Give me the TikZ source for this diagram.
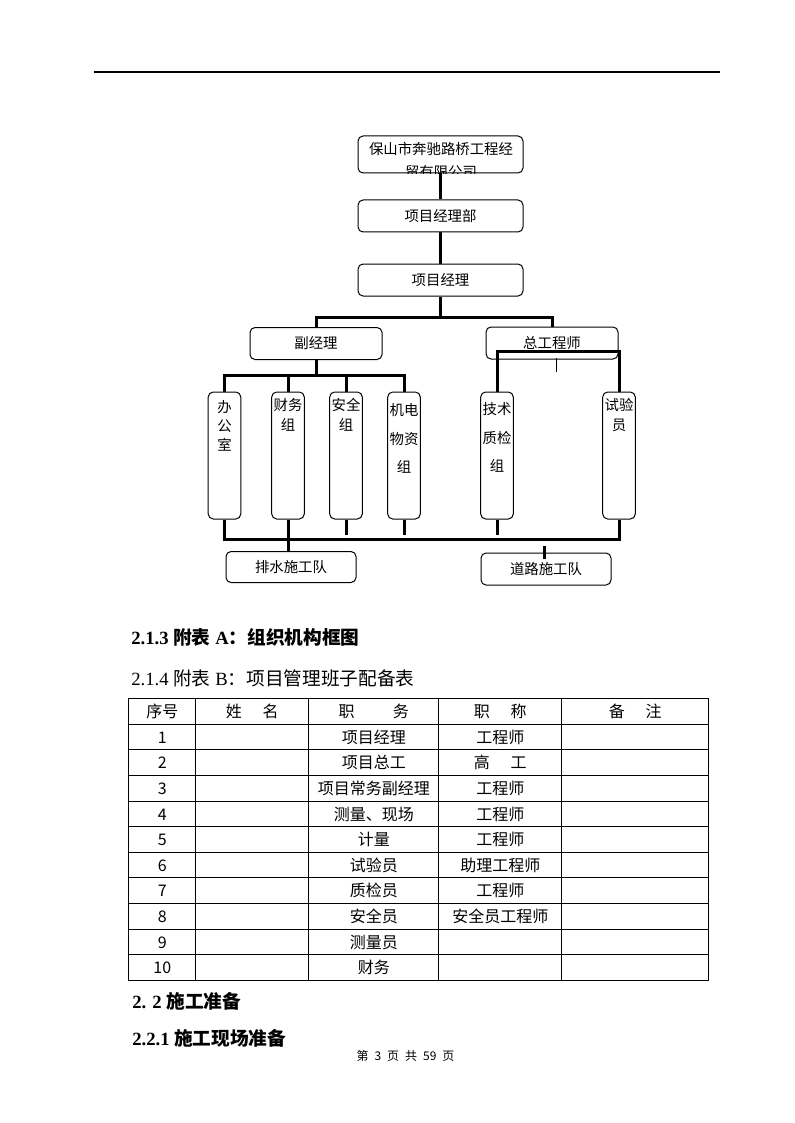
\documentclass[tikz,border=0pt]{standalone}
\usepackage{fontspec}
\setmainfont{Liberation Serif}
\newfontfamily\cjk{Noto Sans CJK SC}
\usepackage{array}
\newcolumntype{C}[1]{>{\centering\arraybackslash}p{#1}}
\newcommand\rowstrut{\rule[-4.65pt]{0pt}{18.45pt}}

\begin{document}
\begin{tikzpicture}[x=0.75pt,y=-0.75pt,
		unit/.style={draw,line width=0.75pt,rounded corners=3.75pt,inner sep=0pt,font=\cjk\fontsize{10.8pt}{13pt}\selectfont},
		wide/.style={unit,minimum width=123.75pt,minimum height=24pt},
		mid/.style={unit,minimum width=99pt,minimum height=24pt},
		crew/.style={unit,minimum width=97.5pt,minimum height=23.25pt},
		slim/.style={unit,minimum width=24.4pt,minimum height=95.25pt},
		vtext/.style={align=center,inner sep=0pt,font=\cjk\fontsize{10.8pt}{#1}\selectfont},
		link/.style={line width=2.25pt},
		head/.style={anchor=west,inner sep=0pt,font=\fontsize{14pt}{17pt}\selectfont}]
			\useasboundingbox (0,0) rectangle (794,1123);
			\draw [line width=0.9pt] (94,72) -- (720,72);
			\node[wide] (co) at (440.5,154.5) [minimum height=27.75pt] {};
			\begin{scope}
				\clip [rounded corners=3.75pt] (co.south west) rectangle (co.north east);
				\node[vtext=17pt] (coname) at (441,160.5) {保山市奔驰路桥工程经\\贸有限公司};
			\end{scope}
			\node[wide] (dept) at (440.5,216) {项目经理部};
			\node[wide] (pm) at (440.5,280) {项目经理};
			\node[mid] (dep) at (316,343.5) {副经理};
			\node[mid] (chf) at (552,343) {总工程师};
			\node[slim] (ofc) at (224.5,455.5) {};
			\node[slim] (fin) at (288,455.5) {};
			\node[slim] (saf) at (346,455.5) {};
			\node[slim] (elec) at (404,455.5) {};
			\node[slim] (tech) at (497,455.5) {};
			\node[slim] (test) at (619,455.5) {};
			\node[vtext=14.4pt] (ofcname) at (224.5,426) {办\\公\\室};
			\node[vtext=15pt] (finname) at (288,415) {财务\\组};
			\node[vtext=15pt] (safname) at (346,415) {安全\\组};
			\node[vtext=21.4pt] (elecname) at (404,438.5) {机电\\物资\\组};
			\node[vtext=21.4pt] (techname) at (497,437.5) {技术\\质检\\组};
			\node[vtext=15pt] (testname) at (619,415) {试验\\员};
			\node[crew] (drain) at (291,567) {排水施工队};
			\node[crew] (road) at (546,569) [minimum height=24pt] {道路施工队};
			\coordinate (busA) at (316,375);
			\coordinate (chfbar) at (556,351);
			\coordinate (tick) at (556,358);
			\coordinate (busB) at (289,539);
			\coordinate (roadtick) at (544,546);
			\draw [link] (co.south) -- (dept.north);
			\draw [link] (dept.south) -- (pm.north);
			\draw [link] (pm.south) -- ++(0,22);
			\draw [link] (dep.north) -- ++(0,-10) -| (chf.north);
			\draw [link] (dep.south) -- (busA);
			\draw [link] (ofc.north) |- (busA) -| (elec.north);
			\draw [link] (fin.north) -- (fin.north |- busA);
			\draw [link] (saf.north) -- (saf.north |- busA);
			\draw [link] (tech.north) |- (chfbar) -| (test.north);
			\draw [line width=0.75pt] (tick) -- ++(0,14);
			\draw [link] (ofc.south) |- (busB) -| (test.south);
			\draw [link] (fin.south) -- (fin.south |- drain.north);
			\draw [link] (saf.south) -- ++(0,15);
			\draw [link] (elec.south) -- ++(0,15);
			\draw [link] (tech.south) -- ++(0,15);
			\draw [link] (roadtick) -- ++(0,13);
			\node[head] (h213) at (131,637) {\bfseries 2.1.3 {\cjk 附表} A{\cjk ：组织机构框图}};
			\node[head] (h214) at (131,678) {2.1.4 {\cjk 附表} B{\cjk ：项目管理班子配备表}};
			\node[inner sep=0pt,anchor=north west,font=\cjk\fontsize{12pt}{14.4pt}\selectfont] (staff) at (128,698)
			{
				\setlength\tabcolsep{0pt}\setlength\arrayrulewidth{0.75pt}%
				\begin{tabular}{|C{49.5pt}|C{84pt}|C{96.75pt}|C{91.5pt}|C{109.5pt}|}
					\hline
					\rowstrut 序号 & 姓\hspace{1.3em}名 & 职\hspace{2.4em}务 & 职\hspace{1.3em}称 & 备\hspace{1.3em}注 \\
					\hline
					\rowstrut 1 & & 项目经理 & 工程师 & \\
					\hline
					\rowstrut 2 & & 项目总工 & 高\hspace{1.3em}工 & \\
					\hline
					\rowstrut 3 & & 项目常务副经理 & 工程师 & \\
					\hline
					\rowstrut 4 & & 测量、现场 & 工程师 & \\
					\hline
					\rowstrut 5 & & 计量 & 工程师 & \\
					\hline
					\rowstrut 6 & & 试验员 & 助理工程师 & \\
					\hline
					\rowstrut 7 & & 质检员 & 工程师 & \\
					\hline
					\rowstrut 8 & & 安全员 & 安全员工程师 & \\
					\hline
					\rowstrut 9 & & 测量员 & & \\
					\hline
					\rowstrut 10 & & 财务 & & \\
					\hline
				\end{tabular}
			};
			\node[head] (h22) at (132,1001) {\bfseries 2. 2 {\cjk 施工准备}};
			\node[head] (h221) at (132,1038) {\bfseries 2.2.1 {\cjk 施工现场准备}};
			\node[font=\cjk\fontsize{9pt}{11pt}\selectfont] (pageno) at (405.5,1056) {第\hspace{0.5em}3\hspace{0.5em}页\hspace{0.5em}共\hspace{0.5em}59\hspace{0.5em}页};
		\end{tikzpicture}
\end{document}
